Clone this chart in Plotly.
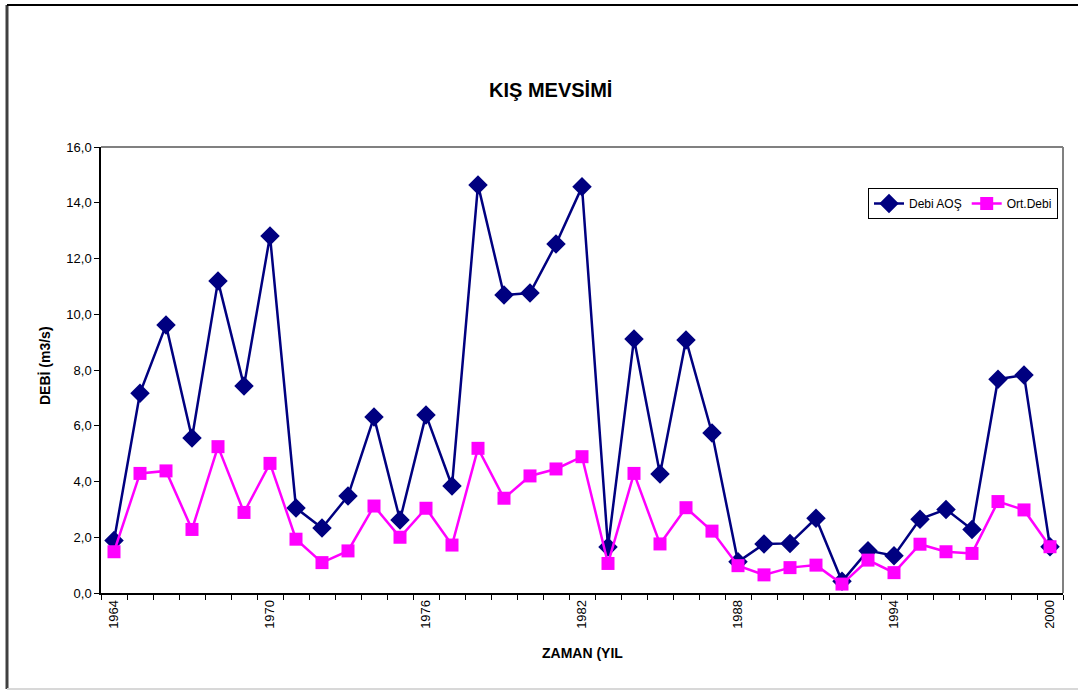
import plotly.graph_objects as go

# Winter-season discharge series, 1964-2000
years = list(range(1964, 2001))
debi_aos = [1.88, 7.17, 9.61, 5.56, 11.19, 7.43, 12.81, 3.05, 2.33, 3.48,
            6.31, 2.62, 6.39, 3.84, 14.64, 10.69, 10.76, 12.52, 14.57, 1.65,
            9.11, 4.27, 9.08, 5.74, 1.12, 1.76, 1.78, 2.68, 0.42, 1.52,
            1.34, 2.65, 3.00, 2.28, 7.67, 7.82, 1.66]
ort_debi = [1.48, 4.29, 4.38, 2.28, 5.25, 2.89, 4.65, 1.93, 1.09, 1.51,
            3.12, 2.00, 3.04, 1.72, 5.19, 3.40, 4.20, 4.45, 4.89, 1.06,
            4.29, 1.76, 3.06, 2.22, 0.98, 0.65, 0.91, 1.00, 0.32, 1.18,
            0.73, 1.75, 1.48, 1.42, 3.28, 2.98, 1.66]
x_tick_years = [1964, 1970, 1976, 1982, 1988, 1994, 2000]
y_ticks = [0, 2, 4, 6, 8, 10, 12, 14, 16]

NAVY = "#000080"
MAGENTA = "#FF00FF"
FONT = "Liberation Sans, Arial, sans-serif"

fig = go.Figure()
fig.add_trace(go.Scatter(
    x=years, y=debi_aos, name="Debi AOŞ", mode="lines+markers",
    line=dict(color=NAVY, width=2.5),
    marker=dict(symbol="diamond", size=15, color=NAVY),
))
fig.add_trace(go.Scatter(
    x=years, y=ort_debi, name="Ort.Debi", mode="lines+markers",
    line=dict(color=MAGENTA, width=2.5),
    marker=dict(symbol="square", size=13, color=MAGENTA),
))

W, H = 1078, 691
L, R, T, B = 101, 15, 147, 98
pw, ph = W - L - R, H - T - B


def px_x(v):
    return (v - L) / pw


def px_y(v):
    return (H - B - v) / ph


shapes = [
    # outer chart frame
    dict(type="line", xref="paper", yref="paper", x0=px_x(7), x1=px_x(7),
         y0=px_y(5), y1=px_y(689), line=dict(color="#404040", width=3)),
    dict(type="line", xref="paper", yref="paper", x0=px_x(7), x1=px_x(1090),
         y0=px_y(5), y1=px_y(5), line=dict(color="#000000", width=2)),
    dict(type="line", xref="paper", yref="paper", x0=px_x(7), x1=px_x(1090),
         y0=px_y(689), y1=px_y(689), line=dict(color="#D8D8D8", width=2)),
    # plot area border (top and right)
    dict(type="line", xref="paper", yref="paper", x0=0, x1=1, y0=1, y1=1,
         line=dict(color="#808080", width=2), layer="below"),
    dict(type="line", xref="paper", yref="paper", x0=1, x1=1, y0=0, y1=1,
         line=dict(color="#808080", width=2), layer="below"),
]

fig.update_layout(
    width=W, height=H,
    margin=dict(l=L, r=R, t=T, b=B, autoexpand=False),
    paper_bgcolor="white", plot_bgcolor="white",
    separators=",.",
    font=dict(family=FONT, size=13, color="black"),
    showlegend=True,
    legend=dict(
        orientation="h", x=px_x(1058), y=px_y(188), xanchor="right", yanchor="top",
        bordercolor="black", borderwidth=1, bgcolor="white",
        font=dict(family=FONT, size=12), itemwidth=30,
        tracegroupgap=0,
    ),
    shapes=shapes,
    annotations=[
        dict(text="<b>KIŞ MEVSİMİ</b>", xref="paper", yref="paper",
             x=px_x(550), y=px_y(90), showarrow=False,
             font=dict(family=FONT, size=20), xanchor="center", yanchor="middle"),
        dict(text="<b>DEBİ (m3/s)</b>", xref="paper", yref="paper",
             x=px_x(45), y=px_y(366), showarrow=False, textangle=-90,
             font=dict(family=FONT, size=14), xanchor="center", yanchor="middle"),
        dict(text="<b>ZAMAN (YIL</b>", xref="paper", yref="paper",
             x=px_x(582), y=px_y(653), showarrow=False,
             font=dict(family=FONT, size=14), xanchor="center", yanchor="middle"),
    ],
)

fig.update_xaxes(
    range=[1963.5, 2000.5],
    tickmode="array", tickvals=x_tick_years, ticktext=[str(v) for v in x_tick_years],
    tickangle=-90, ticks="outside", ticklen=0, tickcolor="black",
    minor=dict(ticks="outside", ticklen=5, tickcolor="black", tick0=1963.5, dtick=1),
    showline=True, linecolor="black", linewidth=1.5,
    showgrid=False, zeroline=False,
    tickfont=dict(family=FONT, size=13),
)
fig.update_yaxes(
    range=[0, 16],
    tickmode="array", tickvals=y_ticks, tickformat=".1f",
    ticks="outside", ticklen=5, tickcolor="black",
    showline=True, linecolor="black", linewidth=1.5,
    showgrid=False, zeroline=False,
    tickfont=dict(family=FONT, size=13),
)

fig.write_html("out.html")
